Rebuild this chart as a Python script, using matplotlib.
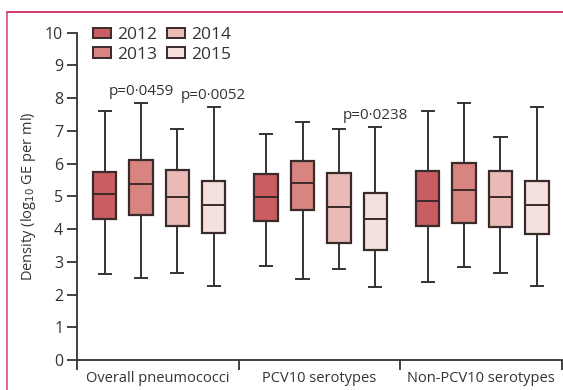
import matplotlib
matplotlib.use("Agg")
import matplotlib.pyplot as plt
from matplotlib.patches import Patch
from matplotlib.lines import Line2D

plt.rcParams['font.family'] = ['Open Sans', 'DejaVu Sans']

groups = ["Overall pneumococci", "PCV10 serotypes", "Non-PCV10 serotypes"]
years = ["2012", "2013", "2014", "2015"]
colours = ["#c95d62", "#d88480", "#e9bab6", "#f4e1de"]

# per group, per year: lower whisker, Q1, median, Q3, upper whisker (log10 GE/ml)
whislo = [[2.64, 2.52, 2.67, 2.26], [2.87, 2.47, 2.77, 2.23], [2.39, 2.84, 2.67, 2.26]]
q1 = [[4.31, 4.44, 4.09, 3.87], [4.25, 4.58, 3.59, 3.36], [4.09, 4.19, 4.07, 3.85]]
med = [[5.06, 5.37, 4.97, 4.73], [4.99, 5.41, 4.66, 4.30], [4.86, 5.19, 4.99, 4.74]]
q3 = [[5.75, 6.11, 5.81, 5.47], [5.67, 6.09, 5.70, 5.09], [5.77, 6.02, 5.78, 5.47]]
whishi = [[7.60, 7.85, 7.06, 7.72], [6.92, 7.26, 7.06, 7.11], [7.60, 7.84, 6.81, 7.72]]

# p-values: (group, year index, label)
pvals = [(0, 1, "p=0\u00b70459"), (0, 3, "p=0\u00b70052"), (1, 3, "p=0\u00b70238")]

offsets = [-0.33, -0.105, 0.12, 0.345]
edge = "#3a2a2a"

fig = plt.figure(figsize=(5.63, 3.90), dpi=100)
ax = fig.add_axes([0.137, 0.077, 0.861, 0.839])

for g in range(len(groups)):
    for k in range(len(years)):
        st = dict(whislo=whislo[g][k], q1=q1[g][k], med=med[g][k],
                  q3=q3[g][k], whishi=whishi[g][k], fliers=[])
        ax.bxp([st], positions=[g + offsets[k]], widths=0.145, capwidths=0.075,
               patch_artist=True, showfliers=False,
               boxprops=dict(facecolor=colours[k], edgecolor=edge, linewidth=1.6),
               medianprops=dict(color=edge, linewidth=1.4),
               whiskerprops=dict(color="#333333", linewidth=1.4),
               capprops=dict(color="#333333", linewidth=1.4), manage_ticks=False)

for g, k, lab in pvals:
    ax.text(g + offsets[k], whishi[g][k] + 0.12, lab, ha="center", va="bottom",
            fontsize=11, color="#333333")

ax.set_xlim(-0.5, 2.5)
ax.set_ylim(0, 10)
ax.set_yticks(range(0, 11))
ax.set_xticks([-0.5, 0.5, 1.5, 2.5])
ax.set_xticklabels([])
ax.set_xticks([0, 1, 2], minor=True)
ax.set_xticklabels(groups, minor=True)
ax.tick_params(axis="x", which="major", length=7, width=1.3, color="#333333")
ax.tick_params(axis="x", which="minor", length=0, pad=8, labelsize=10.5, labelcolor="#333333")
ax.tick_params(axis="y", length=7, width=1.3, color="#333333", labelsize=11.5,
               labelcolor="#333333", pad=3)
for s in ("top", "right"):
    ax.spines[s].set_visible(False)
for s in ("left", "bottom"):
    ax.spines[s].set_linewidth(1.3)
    ax.spines[s].set_color("#333333")
ax.set_ylabel("Density (log$_{10}$ GE per ml)", fontsize=10.5, color="#333333", labelpad=5)

handles = [Patch(facecolor=c, edgecolor=edge, linewidth=1.4) for c in colours]
ax.legend(handles, years, ncol=2, loc="upper left", bbox_to_anchor=(0.0, 1.065),
          frameon=False, fontsize=12.5, handlelength=1.05, handleheight=0.58,
          handletextpad=0.35, columnspacing=0.55, labelspacing=0.2, labelcolor="#333333")

# page frame lines
fig.add_artist(Line2D([0.012, 1.0], [0.969, 0.969], color="#c8174a", linewidth=1.2))
fig.add_artist(Line2D([0.012, 0.012], [0.0, 0.969], color="#d94f7c", linewidth=1.2))

fig.savefig("out.png", dpi=100)
